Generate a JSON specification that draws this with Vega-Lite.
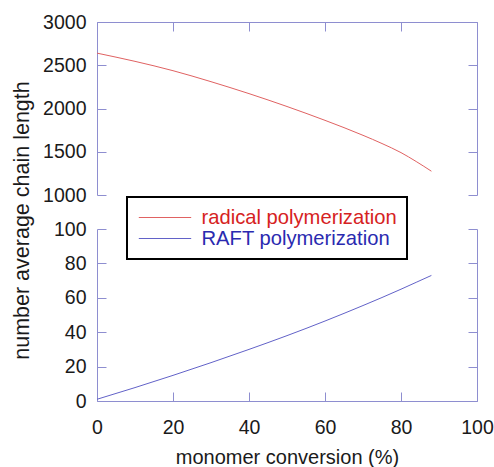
{
  "$schema": "https://vega.github.io/schema/vega-lite/v6.json",
  "padding": {"left": 11, "top": 12, "right": 2, "bottom": 2},
  "background": "white",
  "config": {
    "font": "Liberation Sans",
    "view": {"stroke": null},
    "axis": {
      "grid": false,
      "domainColor": "#8e8ed0",
      "gridColor": "#8e8ed0",
      "gridOpacity": 1,
      "gridWidth": 1,
      "ticks": false,
      "labelFlush": false,
      "labelFont": "Liberation Sans",
      "labelFontSize": 19.5,
      "labelColor": "#1a1a1a",
      "labelPadding": 11,
      "titleFont": "Liberation Sans",
      "titleFontSize": 20,
      "titleFontWeight": "normal",
      "titleColor": "#1a1a1a"
    }
  },
  "datasets": {
    "radical": [
      {"conversion": 0, "Xn": 2640, "series": "radical polymerization"},
      {"conversion": 10, "Xn": 2545, "series": "radical polymerization"},
      {"conversion": 20, "Xn": 2437, "series": "radical polymerization"},
      {"conversion": 30, "Xn": 2310, "series": "radical polymerization"},
      {"conversion": 40, "Xn": 2172, "series": "radical polymerization"},
      {"conversion": 50, "Xn": 2023, "series": "radical polymerization"},
      {"conversion": 60, "Xn": 1863, "series": "radical polymerization"},
      {"conversion": 70, "Xn": 1690, "series": "radical polymerization"},
      {"conversion": 75, "Xn": 1595, "series": "radical polymerization"},
      {"conversion": 80, "Xn": 1490, "series": "radical polymerization"},
      {"conversion": 84, "Xn": 1387, "series": "radical polymerization"},
      {"conversion": 88, "Xn": 1275, "series": "radical polymerization"}
    ],
    "raft": [
      {"conversion": 0, "Xn": 1.0, "series": "RAFT polymerization"},
      {"conversion": 10, "Xn": 7.8, "series": "RAFT polymerization"},
      {"conversion": 20, "Xn": 14.9, "series": "RAFT polymerization"},
      {"conversion": 30, "Xn": 22.3, "series": "RAFT polymerization"},
      {"conversion": 40, "Xn": 30.0, "series": "RAFT polymerization"},
      {"conversion": 50, "Xn": 38.0, "series": "RAFT polymerization"},
      {"conversion": 60, "Xn": 46.5, "series": "RAFT polymerization"},
      {"conversion": 70, "Xn": 55.5, "series": "RAFT polymerization"},
      {"conversion": 80, "Xn": 65.0, "series": "RAFT polymerization"},
      {"conversion": 84, "Xn": 69.0, "series": "RAFT polymerization"},
      {"conversion": 88, "Xn": 73.0, "series": "RAFT polymerization"}
    ]
  },
  "bounds": "flush",
  "spacing": 34,
  "resolve": {"scale": {"color": "shared"}, "legend": {"color": "shared"}},
  "vconcat": [
    {
      "width": 380,
      "height": 173,
      "data": {"name": "radical"},
      "resolve": {"axis": {"y": "independent"}},
      "layer": [
        {
          "mark": {"type": "line", "strokeWidth": 1, "interpolate": "monotone"},
          "encoding": {
            "x": {"field": "conversion", "type": "quantitative", "scale": {"domain": [0, 100]},
                  "axis": {"orient": "top", "labels": false, "title": null, "grid": true, "gridDash": [0, 164, 9, 1000], "values": [0, 20, 40, 60, 80, 100]}},
            "y": {"field": "Xn", "type": "quantitative", "scale": {"domain": [1000, 3000]},
                  "axis": {"orient": "left", "title": null, "format": "d", "grid": true, "gridDash": [9, 362, 9, 1000], "values": [1000, 1500, 2000, 2500, 3000]}},
            "color": {"field": "series", "type": "nominal",
                      "scale": {"domain": ["radical polymerization", "RAFT polymerization"], "range": ["#e06262", "#6262c8"]},
                      "legend": {
                        "orient": "none", "legendX": 30, "legendY": 175,
                        "title": null,
                        "symbolType": "M-0.87,0H4.37", "symbolSize": 400, "symbolStrokeWidth": 1,
                        "labelFont": "Liberation Sans", "labelFontSize": 20.2, "labelOffset": 43.5, "labelLimit": 500,
                        "rowPadding": 0, "padding": 10,
                        "strokeColor": "black", "fillColor": "white",
                        "encode": {
                          "labels": {"update": {"fill": {"signal": "datum.value === 'radical polymerization' ? '#d62222' : '#2a2ab0'"}}},
                          "legend": {"update": {"strokeWidth": {"value": 2}}}
                        }
                      }}
          }
        },
        {
          "mark": {"type": "line", "strokeOpacity": 0},
          "encoding": {
            "x": {"field": "conversion", "type": "quantitative", "scale": {"domain": [0, 100]}},
            "y": {"field": "Xn", "type": "quantitative", "scale": {"domain": [1000, 3000]},
                  "axis": {"orient": "right", "labels": false, "title": null, "values": [1000, 1500, 2000, 2500, 3000]}}
          }
        }
      ]
    },
    {
      "width": 380,
      "height": 172,
      "data": {"name": "raft"},
      "resolve": {"axis": {"y": "independent"}},
      "layer": [
        {
          "mark": {"type": "line", "strokeWidth": 1, "interpolate": "monotone"},
          "encoding": {
            "x": {"field": "conversion", "type": "quantitative", "scale": {"domain": [0, 100]},
                  "axis": {"orient": "bottom", "title": "monomer conversion (%)", "labelPadding": 17, "titlePadding": 11, "grid": true, "gridDash": [0, 163, 9, 1000], "values": [0, 20, 40, 60, 80, 100]}},
            "y": {"field": "Xn", "type": "quantitative", "scale": {"domain": [0, 100]},
                  "axis": {"orient": "left", "title": "number average chain length", "titleFontSize": 21.5, "titleX": -68.5, "titleY": -9, "titleBaseline": "alphabetic", "grid": true, "gridDash": [9, 362, 9, 1000], "values": [0, 20, 40, 60, 80, 100]}},
            "color": {"field": "series", "type": "nominal"}
          }
        },
        {
          "mark": {"type": "line", "strokeOpacity": 0},
          "encoding": {
            "x": {"field": "conversion", "type": "quantitative", "scale": {"domain": [0, 100]}},
            "y": {"field": "Xn", "type": "quantitative", "scale": {"domain": [0, 100]},
                  "axis": {"orient": "right", "labels": false, "title": null, "values": [0, 20, 40, 60, 80, 100]}}
          }
        }
      ]
    }
  ]
}
